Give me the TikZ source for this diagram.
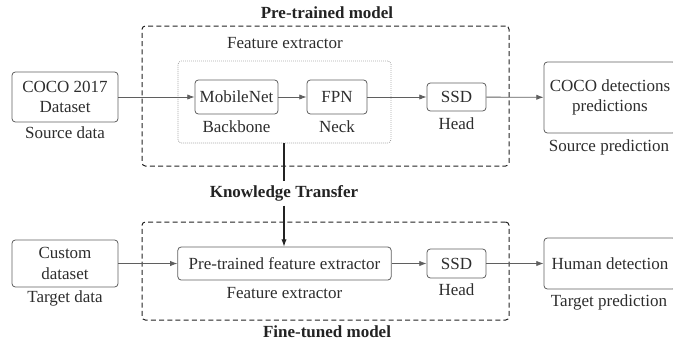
\documentclass[tikz,border=0pt]{standalone}
\usepackage{fontspec}
\setmainfont{Liberation Serif}
\usepackage{tikz}
\usetikzlibrary{arrows.meta,positioning}
\definecolor{boxgray}{RGB}{95,95,95}
\definecolor{txtgray}{RGB}{45,45,45}
\definecolor{titlegray}{RGB}{35,35,35}

\begin{document}
\begin{tikzpicture}[x=0.75pt, y=-0.75pt,
    font=\fontsize{12.75}{15.5}\selectfont, text=txtgray,
    blk/.style={draw=boxgray, line width=0.6pt, rounded corners=2.5pt,
                align=center, inner sep=1pt},
    lbl/.style={inner sep=1pt},
    ttl/.style={font=\fontsize{12.75}{15.5}\selectfont\bfseries, text=titlegray},
    grp/.style={draw=titlegray, line width=0.75pt, dash pattern=on 3.75pt off 2.4pt,
                rounded corners=2.5pt, inner sep=0pt},
    flow/.style={-{Latex[length=5.5pt,width=4pt]}, draw=boxgray, line width=0.6pt}]
  \useasboundingbox (0,0) rectangle (673,340);
  % Upper part: pre-trained model
  \node[grp, minimum width=275.25pt, minimum height=105pt] (pre) at (325.5,96) {};
  \node[ttl] (pretitle) at (327,13) {Pre-trained model};
  \node[lbl] (felbl) at (285,43) {Feature extractor};
  \node[draw=boxgray!80, line width=0.5pt, densely dotted, rounded corners=2.5pt,
        minimum width=159.75pt, minimum height=61.5pt, inner sep=0pt] (fe) at (284.5,102) {};
  \node[blk, minimum width=79.5pt, minimum height=37.5pt] (coco) at (65,97) {COCO 2017\\Dataset};
  \node[lbl] (srclbl) at (65,133) {Source data};
  \node[blk, minimum width=62.25pt, minimum height=25.5pt] (mobilenet) at (236.5,97) {MobileNet};
  \node[lbl] (backbone) at (236.5,127) {Backbone};
  \node[blk, minimum width=45pt, minimum height=25.5pt] (fpn) at (337,97) {FPN};
  \node[lbl] (neck) at (337,127) {Neck};
  \node[blk, minimum width=44.25pt, minimum height=21pt] (ssdA) at (456.5,97) {SSD};
  \node[lbl] (headA) at (456.5,124) {Head};
  \node[blk, minimum width=99pt, minimum height=53.25pt] (cocodet) at (610,97.5) {COCO detections\\predictions};
  \node[lbl] (srcpred) at (609,147) {Source prediction};
  \draw[flow] (coco) -- (mobilenet);
  \draw[flow] (mobilenet) -- (fpn);
  \draw[flow] (fpn) -- (ssdA);
  \draw[flow] (ssdA) -- (cocodet);
  % Transfer
  \node[ttl, inner sep=3pt] (kt) at (284,193.5) {Knowledge Transfer};
  % Lower part: fine-tuned model
  \node[grp, minimum width=275.25pt, minimum height=73.5pt] (fine) at (325.5,271) {};
  \node[ttl] (finetitle) at (327,332) {Fine-tuned model};
  \node[blk, minimum width=79.5pt, minimum height=35.25pt] (custom) at (65,263.5) {Custom\\dataset};
  \node[lbl] (tgtlbl) at (65,298) {Target data};
  \node[blk, minimum width=160pt, minimum height=24.75pt] (ptfe) at (284.5,263.5) {Pre-trained feature extractor};
  \node[lbl] (felblB) at (284.5,293) {Feature extractor};
  \node[blk, minimum width=44.25pt, minimum height=21.75pt] (ssdB) at (456.5,263.5) {SSD};
  \node[lbl] (headB) at (456.5,290) {Head};
  \node[blk, minimum width=99pt, minimum height=38.25pt] (human) at (610,263.5) {Human detection};
  \node[lbl] (tgtpred) at (609,302) {Target prediction};
  \draw[flow] (custom) -- (ptfe);
  \draw[flow] (ptfe) -- (ssdB);
  \draw[flow] (ssdB) -- (human);
  \draw[draw=titlegray, line width=0.8pt] (fe.south -| kt.north) -- (kt.north);
  \draw[flow, draw=titlegray, line width=0.8pt] (kt.south) -- (ptfe.north -| kt.south);
\end{tikzpicture}
\end{document}
